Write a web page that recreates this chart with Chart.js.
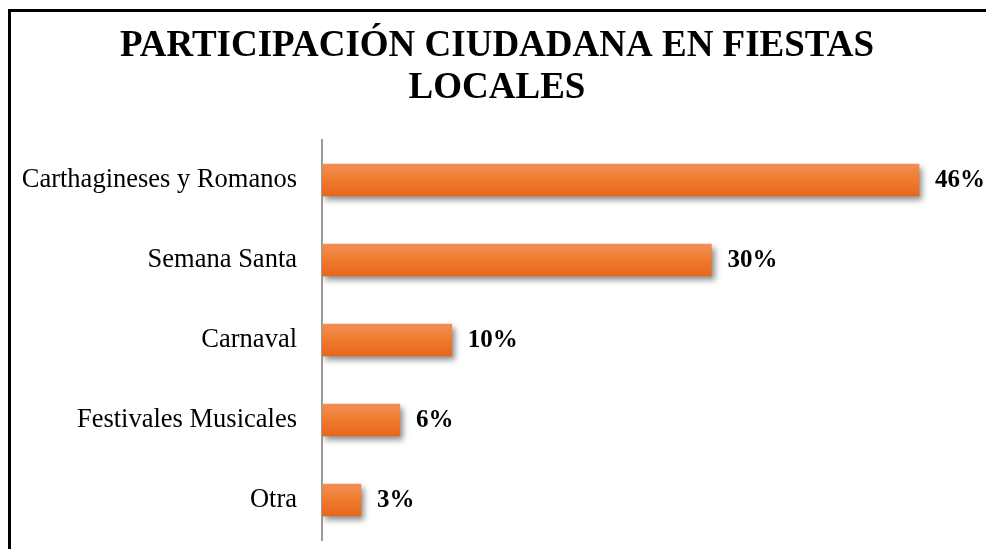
<!DOCTYPE html>
<html>
<head>
<meta charset="utf-8">
<script src="https://cdn.jsdelivr.net/npm/chart.js@4/dist/chart.umd.min.js"></script>
<style>
html,body{margin:0;padding:0;background:#fff;overflow:hidden;}
#wrap{position:relative;width:986px;height:549px;}
</style>
</head>
<body>
<div id="wrap"><canvas id="c" width="986" height="549"></canvas></div>
<script>
const titleLines = ['PARTICIPACIÓN CIUDADANA EN FIESTAS', 'LOCALES'];
const categories = ['Carthagineses y Romanos', 'Semana Santa', 'Carnaval', 'Festivales Musicales', 'Otra'];
const participation = [46, 30, 10, 6, 3];
const valueLabels = ['46%', '30%', '10%', '6%', '3%'];

const frame = {
  id: 'frame',
  afterDraw(chart) {
    const ctx = chart.ctx;
    ctx.save();
    ctx.fillStyle = '#000';
    ctx.fillRect(8, 9, 3, 540);
    ctx.fillRect(8, 9, 978, 3);
    ctx.restore();
  }
};

const shadow = {
  id: 'shadow',
  beforeDatasetsDraw(chart) {
    const ctx = chart.ctx;
    ctx.save();
    ctx.shadowColor = 'rgba(0,0,0,0.45)';
    ctx.shadowBlur = 6;
    ctx.shadowOffsetX = 3;
    ctx.shadowOffsetY = 4;
  },
  afterDatasetsDraw(chart) {
    chart.ctx.restore();
    const ctx = chart.ctx;
    const meta = chart.getDatasetMeta(0);
    ctx.save();
    ctx.font = 'bold 25px "Liberation Serif", "Times New Roman", serif';
    ctx.fillStyle = '#000';
    ctx.textAlign = 'left';
    ctx.textBaseline = 'middle';
    meta.data.forEach((bar, i) => {
      ctx.fillText(valueLabels[i], bar.x + 16, bar.y + 1);
    });
    ctx.restore();
  }
};

new Chart(document.getElementById('c'), {
  type: 'bar',
  data: {
    labels: categories,
    datasets: [{
      data: participation,
      backgroundColor(ctx) {
        const chart = ctx.chart;
        if (!chart.chartArea || !chart.scales.y) return '#EE7A2E';
        const y = chart.scales.y.getPixelForValue(ctx.dataIndex);
        const g = chart.ctx.createLinearGradient(0, y - 16, 0, y + 16);
        g.addColorStop(0, '#F28F55');
        g.addColorStop(0.5, '#EF7A2E');
        g.addColorStop(1, '#E4681B');
        return g;
      },
      borderWidth: 0,
      barThickness: 32
    }]
  },
  options: {
    indexAxis: 'y',
    responsive: false,
    animation: false,
    devicePixelRatio: 1,
    layout: { padding: { left: 23, right: 15, top: 0, bottom: 9 } },
    plugins: {
      legend: { display: false },
      tooltip: { enabled: false },
      title: {
        display: true,
        text: titleLines,
        color: '#000',
        font: { family: '"Liberation Serif", "Times New Roman", serif', size: 37, weight: 'bold', lineHeight: '42px' },
        padding: { top: 25, bottom: 31 }
      }
    },
    scales: {
      x: { display: false, min: 0, max: 50 },
      y: {
        afterFit(scale) { scale.width = 299; scale.paddingTop = 0; scale.paddingBottom = 0; },
        grid: { display: false, drawTicks: false },
        border: { display: true, color: '#9A9A9A', width: 2 },
        ticks: {
          padding: 25,
          color: '#000',
          font: { family: '"Liberation Serif", "Times New Roman", serif', size: 26.5 }
        }
      }
    }
  },
  plugins: [frame, shadow]
});
</script>
</body>
</html>
